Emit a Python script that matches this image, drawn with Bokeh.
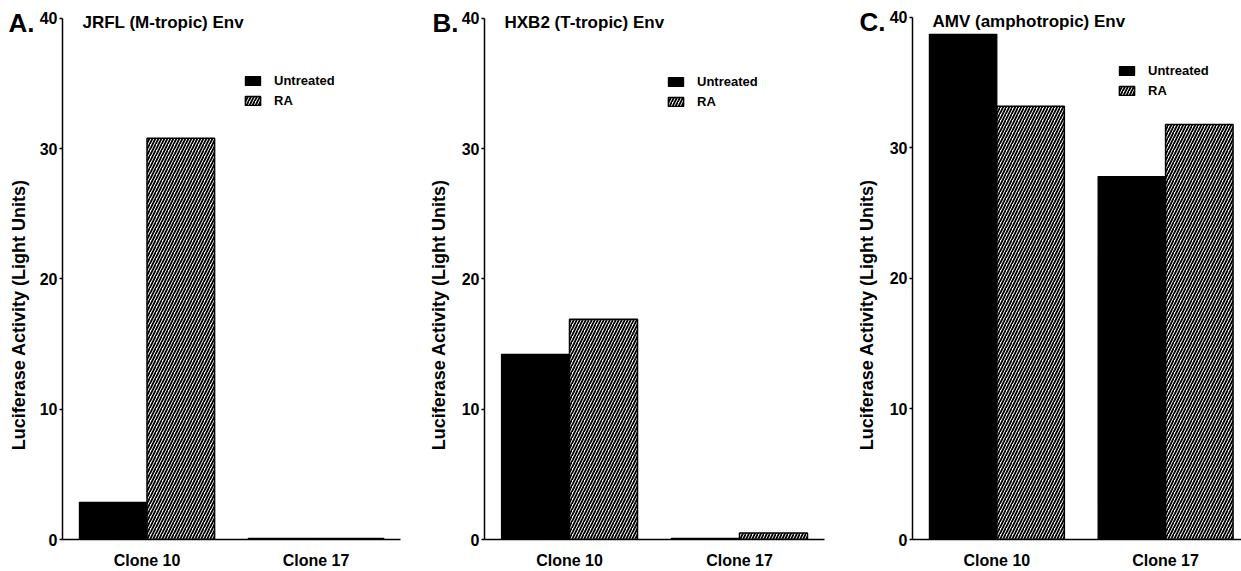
import math
from bokeh.plotting import figure
from bokeh.layouts import row
from bokeh.models import (ColumnDataSource, Range1d, FixedTicker, Label, Legend,
                          LegendItem)
from bokeh.core.properties import value
from bokeh.embed import file_html
from bokeh.resources import INLINE

# ---------------- data ----------------
clones = ["Clone 10", "Clone 17"]
treatments = ["Untreated", "RA"]
panel_letters = ["A.", "B.", "C."]
panel_titles = ["JRFL (M-tropic) Env", "HXB2 (T-tropic) Env", "AMV (amphotropic) Env"]
jrfl_untreated = [2.85, 0.08]
jrfl_ra = [30.8, 0.08]
hxb2_untreated = [14.2, 0.08]
hxb2_ra = [16.9, 0.5]
amv_untreated = [38.7, 27.8]
amv_ra = [33.2, 31.8]
y_ticks = [0, 10, 20, 30, 40]
y_top = 40
y_label = "Luciferase Activity (Light Units)"

FONT = "Liberation Sans"
H = 571

# layout per panel (pixels): strip width (letter + y label), main width,
# main borders, y of the 40 level and of 0, legend location, text positions
layouts = [
    dict(sw=36, mw=374, bl=26, br=10, y40=18, y0=545, xmax=2.0, leg=(181, 431),
         letter_x=8, ylab_x=18),
    dict(sw=48, mw=372, bl=26, br=6, y40=18, y0=545, xmax=2.0, leg=(182, 430),
         letter_x=22, ylab_x=28),
    dict(sw=56, mw=355, bl=26, br=0, y40=17, y0=543, xmax=1.95, leg=(205, 441),
         letter_x=29, ylab_x=36),
]
series = [(jrfl_untreated, jrfl_ra), (hxb2_untreated, hxb2_ra), (amv_untreated, amv_ra)]


def make_strip(i):
    L = layouts[i]
    s = figure(width=L["sw"], height=H, x_range=Range1d(0, L["sw"]),
               y_range=Range1d(H, 0), output_backend="svg", toolbar_location=None,
               min_border_left=0, min_border_right=0, min_border_top=0,
               min_border_bottom=0)
    s.axis.visible = False
    s.grid.visible = False
    s.outline_line_color = None
    s.text(x=[L["letter_x"]], y=[L["y40"] + 6], text=[panel_letters[i]],
           text_align="left", text_baseline="middle", text_font=value(FONT),
           text_font_style="bold", text_font_size="26px", text_color="black")
    s.text(x=[L["ylab_x"]], y=[333], text=[y_label], angle=math.pi / 2,
           text_align="center", text_baseline="middle", text_font=value(FONT),
           text_font_style="bold", text_font_size="18px", text_color="black")
    return s


def make_panel(i):
    L = layouts[i]
    untreated, ra = series[i]
    px_per_unit = (L["y0"] - L["y40"]) / y_top
    y_end = y_top + L["y40"] / px_per_unit
    p = figure(width=L["mw"], height=H, x_range=Range1d(0, L["xmax"]),
               y_range=Range1d(0, y_end), output_backend="svg", toolbar_location=None,
               min_border_left=L["bl"], min_border_right=L["br"],
               min_border_top=0, min_border_bottom=H - L["y0"])
    p.outline_line_color = None
    p.xgrid.visible = False
    p.ygrid.visible = False

    centers = [k + 0.5 for k in range(len(clones))]
    src = ColumnDataSource(dict(xu=[c - 0.2 for c in centers],
                                xr=[c + 0.2 for c in centers],
                                u=untreated, r=ra))
    ru = p.vbar(x="xu", top="u", bottom=0, width=0.4, source=src,
                fill_color="black", line_color="black", line_width=1.2)
    rr = p.vbar(x="xr", top="r", bottom=0, width=0.4, source=src,
                fill_color="white", line_color="black", line_width=1.5,
                hatch_pattern="/", hatch_color="black", hatch_scale=6,
                hatch_weight=1.8)

    # x axis
    xa = p.xaxis[0]
    xa.ticker = FixedTicker(ticks=centers)
    xa.major_label_overrides = {c: name for c, name in zip(centers, clones)}
    xa.major_tick_line_color = None
    xa.minor_tick_line_color = None
    xa.major_label_text_font = FONT
    xa.major_label_text_font_style = "bold"
    xa.major_label_text_font_size = "16px"
    xa.major_label_text_color = "black"
    xa.major_label_standoff = 6
    xa.axis_line_width = 1.5
    xa.axis_line_color = "black"

    # y axis
    ya = p.yaxis[0]
    ya.ticker = FixedTicker(ticks=y_ticks)
    ya.bounds = (0, y_top)
    ya.minor_tick_line_color = None
    ya.major_tick_out = 3
    ya.major_tick_in = 0
    ya.major_tick_line_width = 1.3
    ya.major_tick_line_color = "black"
    ya.major_label_standoff = 2
    ya.major_label_text_font = FONT
    ya.major_label_text_font_style = "bold"
    ya.major_label_text_font_size = "16px"
    ya.major_label_text_color = "black"
    ya.axis_line_width = 1.5
    ya.axis_line_color = "black"

    # panel title (inside the frame, above the 40 level)
    p.add_layout(Label(x=0, y=y_top, x_offset=20, y_offset=-4, text=panel_titles[i],
                       text_align="left", text_baseline="middle", text_color="black",
                       text_font=FONT, text_font_style="bold", text_font_size="17px"))

    legend = Legend(items=[LegendItem(label=treatments[0], renderers=[ru]),
                           LegendItem(label=treatments[1], renderers=[rr])],
                    location=L["leg"], orientation="vertical",
                    glyph_width=19, glyph_height=11, label_height=14,
                    label_standoff=12, spacing=5, padding=0, margin=0,
                    border_line_color=None, background_fill_alpha=0,
                    label_text_font=FONT, label_text_font_style="bold",
                    label_text_font_size="13px", label_text_color="black")
    p.add_layout(legend)
    return p


children = []
for i in range(3):
    children.append(make_strip(i))
    children.append(make_panel(i))
layout = row(*children, spacing=0)
open("out.html", "w").write(file_html(layout, INLINE))
